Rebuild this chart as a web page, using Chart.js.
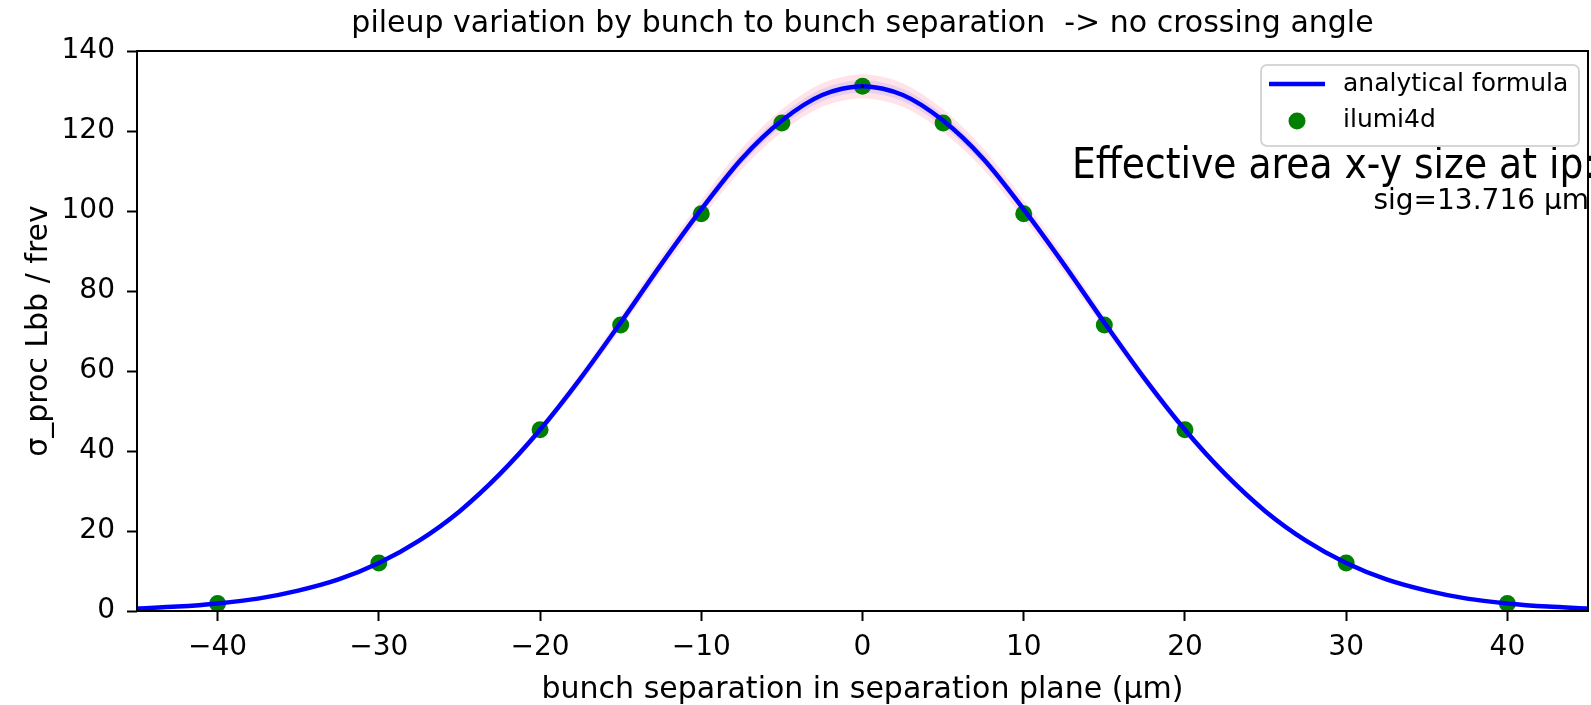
<!DOCTYPE html>
<html><head><meta charset="utf-8">
<script src="https://cdn.jsdelivr.net/npm/chart.js@4.4.1/dist/chart.umd.min.js"></script>
<style>html,body{margin:0;padding:0;background:#fff}#wrap{width:1591px;height:705px;position:relative}</style>
</head><body><div id="wrap"><canvas id="c" width="1591" height="705"></canvas></div>
<script>
// ---- data ----
const curveX = [-45,-42.5,-40,-37.5,-35,-32.5,-30,-27.5,-25,-22.5,-20,-17.5,-15,-12.5,-10,-7.5,-5,-2.5,0,2.5,5,7.5,10,12.5,15,17.5,20,22.5,25,27.5,30,32.5,35,37.5,40,42.5,45];
const curveY = [0.6,1.1,1.9,3.1,5.1,7.9,12.0,17.6,24.9,34.2,45.3,58.1,72.1,86.6,100.4,113.0,122.6,129.0,131.2,129.0,122.6,113.0,100.4,86.6,72.1,58.1,45.3,34.2,24.9,17.6,12.0,7.9,5.1,3.1,1.9,1.1,0.6];
const pointX = [-40,-30,-20,-15,-10,-5,0,5,10,15,20,30,40];
const pointY = [1.9,12.0,45.3,71.5,99.3,122.0,131.2,122.0,99.3,71.5,45.3,12.0,1.9];
const peakX = [0];
const peakY = [131.2];
const xTicks = [-40,-30,-20,-10,0,10,20,30,40];
const yTicks = [0,20,40,60,80,100,120,140];
const bandOuterRel = 0.023;
const bandInnerRel = 0.012;
const titleText = 'pileup variation by bunch to bunch separation  -> no crossing angle';
const xTitle = 'bunch separation in separation plane (\u03bcm)';
const yTitle = '\u03c3_proc Lbb / frev';
const note1 = 'Effective area x-y size at ip:';
const note2 = 'sig=13.716 \u03bcm';

const FONT = "'DejaVu Sans', 'Liberation Sans', sans-serif";
Chart.defaults.font.family = FONT;
Chart.defaults.color = '#000';

const pts = (xs, ys, f) => xs.map((x, i) => ({x: x, y: f ? f(ys[i]) : ys[i]}));

const spines = {
  id: 'spines',
  afterDatasetsDraw(chart) {
    const {ctx, chartArea: a} = chart;
    ctx.save();
    ctx.strokeStyle = '#000';
    ctx.lineWidth = 2;
    ctx.strokeRect(a.left, a.top, a.right - a.left, a.bottom - a.top);
    ctx.restore();
  }
};

const notes = {
  id: 'notes',
  afterDraw(chart) {
    const ctx = chart.ctx;
    const a = chart.chartArea;
    ctx.save();
    ctx.fillStyle = '#000';
    // title centred over the plot area
    ctx.font = "30px " + FONT;
    ctx.textAlign = 'center';
    ctx.textBaseline = 'middle';
    ctx.fillText(titleText, (a.left + a.right) / 2, 24);

    ctx.textBaseline = 'alphabetic';
    ctx.textAlign = 'left';
    ctx.font = "42px " + FONT;
    const w1 = ctx.measureText(note1).width;
    ctx.save();
    ctx.translate(1072, 178);
    ctx.scale(524 / w1, 1);
    ctx.fillText(note1, 0, 0);
    ctx.restore();
    ctx.font = "28px " + FONT;
    ctx.textAlign = 'right';
    ctx.fillText(note2, 1589, 209);
    ctx.restore();

    // legend
    const ds = chart.data.datasets;
    const line = ds[4], dots = ds[5];
    ctx.save();
    const bx = 1261, by = 65, bw = 318, bh = 81, r = 6;
    ctx.beginPath();
    ctx.moveTo(bx + r, by);
    ctx.arcTo(bx + bw, by, bx + bw, by + bh, r);
    ctx.arcTo(bx + bw, by + bh, bx, by + bh, r);
    ctx.arcTo(bx, by + bh, bx, by, r);
    ctx.arcTo(bx, by, bx + bw, by, r);
    ctx.closePath();
    ctx.fillStyle = 'rgba(255,255,255,0.8)';
    ctx.fill();
    ctx.strokeStyle = '#d6d6d6';
    ctx.lineWidth = 2;
    ctx.stroke();
    ctx.strokeStyle = line.borderColor;
    ctx.lineWidth = line.borderWidth;
    ctx.beginPath();
    ctx.moveTo(1269, 84);
    ctx.lineTo(1325, 84);
    ctx.stroke();
    ctx.fillStyle = dots.backgroundColor;
    ctx.beginPath();
    ctx.arc(1297, 121, dots.pointRadius, 0, Math.PI * 2);
    ctx.fill();
    ctx.fillStyle = '#000';
    ctx.font = "25px " + FONT;
    ctx.textAlign = 'left';
    ctx.textBaseline = 'middle';
    ctx.fillText(line.label, 1343, 84);
    ctx.fillText(dots.label, 1343, 120);
    ctx.restore();
  }
};

new Chart(document.getElementById('c'), {
  type: 'scatter',
  data: {
    datasets: [
      {label: 'outerUp', data: pts(curveX, curveY, v => v * (1 + bandOuterRel)), showLine: true, pointRadius: 0, borderWidth: 0, tension: 0.3, fill: '+1', backgroundColor: 'rgba(255,192,203,0.45)', order: 4},
      {label: 'outerLow', data: pts(curveX, curveY, v => v * (1 - bandOuterRel)), showLine: true, pointRadius: 0, borderWidth: 0, tension: 0.3, fill: false, order: 4},
      {label: 'innerUp', data: pts(curveX, curveY, v => v * (1 + bandInnerRel)), showLine: true, pointRadius: 0, borderWidth: 0, tension: 0.3, fill: '+1', backgroundColor: 'rgba(150,140,255,0.22)', order: 3},
      {label: 'innerLow', data: pts(curveX, curveY, v => v * (1 - bandInnerRel)), showLine: true, pointRadius: 0, borderWidth: 0, tension: 0.3, fill: false, order: 3},
      {label: 'analytical formula', data: pts(curveX, curveY), showLine: true, pointRadius: 0, borderColor: '#0000ff', borderWidth: 4.5, tension: 0.3, fill: false, order: 1},
      {label: 'ilumi4d', data: pts(pointX, pointY), showLine: false, pointRadius: 8.5, pointHoverRadius: 8.5, backgroundColor: '#008000', borderWidth: 0, order: 2},
      {label: 'peak', data: pts(peakX, peakY), showLine: false, pointStyle: 'rect', pointRadius: 2, backgroundColor: '#000', borderWidth: 0, order: 0}
    ]
  },
  options: {
    responsive: false,
    animation: false,
    devicePixelRatio: 1,
    layout: {autoPadding: false, padding: {left: 0, right: 3, top: 51, bottom: 0}},
    plugins: {
      legend: {display: false},
      tooltip: {enabled: false},
      title: {display: false}
    },
    scales: {
      x: {
        type: 'linear', min: -45, max: 45,
        afterBuildTicks: s => { s.ticks = xTicks.map(v => ({value: v})); },
        afterFit: s => { s.height = 94; s.paddingLeft = 0; s.paddingRight = 0; },
        ticks: {font: {size: 28}, padding: 10, color: '#000', maxRotation: 0, callback: v => v < 0 ? '\u2212' + Math.abs(v) : String(v)},
        grid: {display: true, drawOnChartArea: false, drawTicks: true, tickLength: 10, tickWidth: 2, tickColor: '#000'},
        border: {display: false},
        title: {display: true, text: xTitle, color: '#000', font: {size: 30}, padding: {top: 0, bottom: -3}}
      },
      y: {
        type: 'linear', min: 0, max: 140,
        afterBuildTicks: s => { s.ticks = yTicks.map(v => ({value: v})); },
        afterFit: s => { s.width = 137; s.paddingTop = 0; s.paddingBottom = 0; },
        ticks: {font: {size: 28}, padding: 12, color: '#000'},
        grid: {display: true, drawOnChartArea: false, drawTicks: true, tickLength: 10, tickWidth: 2, tickColor: '#000'},
        border: {display: false},
        title: {display: true, text: yTitle, color: '#000', font: {size: 30}, padding: {top: 21, bottom: 0}}
      }
    }
  },
  plugins: [spines, notes]
});
</script></body></html>
